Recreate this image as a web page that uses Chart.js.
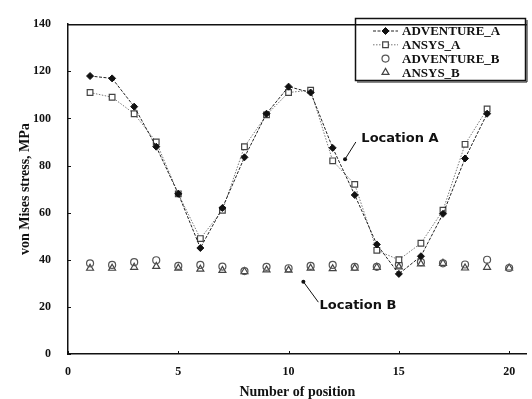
<!DOCTYPE html>
<html>
<head>
<meta charset="utf-8">
<script src="https://cdn.jsdelivr.net/npm/chart.js@4.4.1/dist/chart.umd.min.js"></script>
<style>
  html, body { margin: 0; padding: 0; background: #fff; }
</style>
</head>
<body>
<canvas id="stress" width="532" height="399"></canvas>
<script>
// values
const positionsA = [1, 2, 3, 4, 5, 6, 7, 8, 9, 10, 11, 12, 13, 14, 15, 16, 17, 18, 19];
const adventureA = [118, 117, 105, 88, 68, 45, 62, 83.5, 102, 113.5, 111, 87.5, 67.5, 46.5, 34, 41.5, 59.5, 83, 102];
const ansysA     = [111, 109, 102, 90, 68, 49, 61, 88, 101.5, 111, 112, 82, 72, 44, 40, 47, 61, 89, 104];

const positionsB = [1, 2, 3, 4, 5, 6, 7, 8, 9, 10, 11, 12, 13, 14, 15, 16, 17, 18, 19, 20];
const adventureB = [38.5, 37.8, 39, 39.8, 37.4, 37.8, 37.1, 35.2, 37, 36.4, 37.4, 37.8, 37, 37, 38, 39, 38.5, 38, 40, 36.5];
const ansysB     = [36.4, 36.4, 36.8, 37.2, 36.4, 36, 35.5, 35, 35.7, 35.6, 36.4, 36.2, 36.4, 36.8, 37, 38.2, 38.5, 36.5, 36.8, 36.5];

const xTicks = [0, 5, 10, 15, 20];
const yTicks = [0, 20, 40, 60, 80, 100, 120, 140];

// text callouts, in data units: label anchor, arrow start, arrow tip
const callouts = [
    { text: 'Location A', x: 13.3, y: 91.5, from: [13.05, 90], to: [12.56, 82.7] },
    { text: 'Location B', x: 11.4, y: 20.5, from: [11.35, 22], to: [10.67, 30.7] }
];

function pairs(xs, ys) {
    return xs.map((x, i) => ({ x: x, y: ys[i] }));
}

const serif = 'Liberation Serif, Times New Roman, serif';

// small inward tick marks, top frame line, boxed legend and callouts
const decorations = {
    id: 'decorations',
    afterDraw(chart) {
        const ctx = chart.ctx;
        const xs = chart.scales.x, ys = chart.scales.y;
        const area = chart.chartArea;
        ctx.save();
        ctx.strokeStyle = '#111';
        ctx.lineWidth = 1;
        ctx.beginPath();
        yTicks.forEach(v => {
            const py = Math.round(ys.getPixelForValue(v)) + 0.5;
            ctx.moveTo(area.left, py); ctx.lineTo(area.left + 3, py);
        });
        xTicks.forEach(v => {
            const px = Math.round(xs.getPixelForValue(v)) + 0.5;
            ctx.moveTo(px, area.bottom); ctx.lineTo(px, area.bottom - 3);
        });
        ctx.stroke();

        ctx.lineWidth = 1.5;
        ctx.beginPath();
        ctx.moveTo(area.left, area.top + 0.5);
        ctx.lineTo(area.right, area.top + 0.5);
        ctx.stroke();

        // legend
        ctx.lineWidth = 1.5;
        ctx.strokeRect(355.5, 18.5, 170, 62);
        ctx.lineWidth = 1;
        ctx.beginPath();
        ctx.moveTo(527, 20); ctx.lineTo(527, 82); ctx.lineTo(357, 82);
        ctx.stroke();
        ctx.font = 'bold 13px ' + serif;
        ctx.textBaseline = 'middle';
        ctx.textAlign = 'left';
        chart.data.datasets.forEach((ds, i) => {
            const y = 31 + i * 13.8;
            if (ds.showLine) {
                ctx.save();
                ctx.strokeStyle = ds.borderColor;
                ctx.lineWidth = 1;
                ctx.setLineDash(ds.borderDash || []);
                ctx.beginPath();
                ctx.moveTo(373, y); ctx.lineTo(398, y);
                ctx.stroke();
                ctx.restore();
            }
            ctx.save();
            ctx.fillStyle = ds.pointBackgroundColor;
            ctx.strokeStyle = ds.pointBorderColor;
            ctx.lineWidth = ds.pointBorderWidth;
            Chart.helpers.drawPoint(ctx, {
                pointStyle: ds.pointStyle,
                radius: ds.pointRadius,
                rotation: 0,
                borderWidth: ds.pointBorderWidth
            }, 385.5, y);
            ctx.restore();
            ctx.fillStyle = '#111';
            ctx.fillText(ds.label, 402, y + 1);
        });

        // callouts
        ctx.font = 'bold 13px DejaVu Sans, sans-serif';
        ctx.fillStyle = '#111';
        ctx.textBaseline = 'middle';
        callouts.forEach(c => {
            ctx.fillText(c.text, xs.getPixelForValue(c.x), ys.getPixelForValue(c.y));
            const x0 = xs.getPixelForValue(c.from[0]), y0 = ys.getPixelForValue(c.from[1]);
            const x1 = xs.getPixelForValue(c.to[0]), y1 = ys.getPixelForValue(c.to[1]);
            ctx.lineWidth = 1;
            ctx.beginPath();
            ctx.moveTo(x0, y0); ctx.lineTo(x1, y1);
            ctx.stroke();
            ctx.beginPath();
            ctx.arc(x1, y1, 2, 0, Math.PI * 2);
            ctx.fill();
        });
        ctx.restore();
    }
};

new Chart(document.getElementById('stress'), {
    type: 'scatter',
    data: {
        datasets: [
            {
                label: 'ADVENTURE_A', data: pairs(positionsA, adventureA), showLine: true,
                borderColor: '#222', borderWidth: 1, borderDash: [3, 1.5],
                pointStyle: 'rectRot', pointRadius: 3.5, pointBackgroundColor: '#111',
                pointBorderColor: '#111', pointBorderWidth: 1
            },
            {
                label: 'ANSYS_A', data: pairs(positionsA, ansysA), showLine: true,
                borderColor: '#777', borderWidth: 1, borderDash: [1.5, 1.5],
                pointStyle: 'rect', pointRadius: 4, pointBackgroundColor: '#fff',
                pointBorderColor: '#444', pointBorderWidth: 1.2
            },
            {
                label: 'ADVENTURE_B', data: pairs(positionsB, adventureB), showLine: false,
                pointStyle: 'circle', pointRadius: 3.5, pointBackgroundColor: 'rgba(255,255,255,0)',
                pointBorderColor: '#555', pointBorderWidth: 1.2
            },
            {
                label: 'ANSYS_B', data: pairs(positionsB, ansysB), showLine: false,
                pointStyle: 'triangle', pointRadius: 4, pointBackgroundColor: 'rgba(255,255,255,0)',
                pointBorderColor: '#444', pointBorderWidth: 1.2
            }
        ]
    },
    options: {
        responsive: false,
        animation: false,
        devicePixelRatio: 1,
        layout: { padding: { top: 12, right: 0, bottom: 0, left: 0 } },
        plugins: { legend: { display: false }, tooltip: { enabled: false } },
        scales: {
            x: {
                type: 'linear', min: 0, max: 20.8,
                afterBuildTicks: s => { s.ticks = xTicks.map(v => ({ value: v })); },
                afterFit: s => { s.height = 45; },
                grid: { display: false, drawTicks: false },
                border: { display: true, color: '#111', width: 1.5 },
                ticks: { color: '#111', font: { family: serif, weight: 'bold', size: 12 }, padding: 11, maxRotation: 0, autoSkip: false },
                title: {
                    display: true, text: 'Number of position', color: '#111',
                    font: { family: serif, weight: 'bold', size: 14, lineHeight: 1 },
                    padding: { top: 0, bottom: 0 }
                }
            },
            y: {
                min: 0, max: 140,
                afterBuildTicks: s => { s.ticks = yTicks.map(v => ({ value: v })); },
                afterFit: s => { s.width = 68; },
                grid: { display: false, drawTicks: false },
                border: { display: true, color: '#111', width: 1.5 },
                ticks: { color: '#111', font: { family: serif, weight: 'bold', size: 12 }, padding: 17 },
                title: {
                    display: true, text: 'von Mises stress, MPa', color: '#111',
                    font: { family: serif, weight: 'bold', size: 14, lineHeight: 1 },
                    padding: { top: 18, bottom: 0 }
                }
            }
        }
    },
    plugins: [decorations]
});
</script>
</body>
</html>
